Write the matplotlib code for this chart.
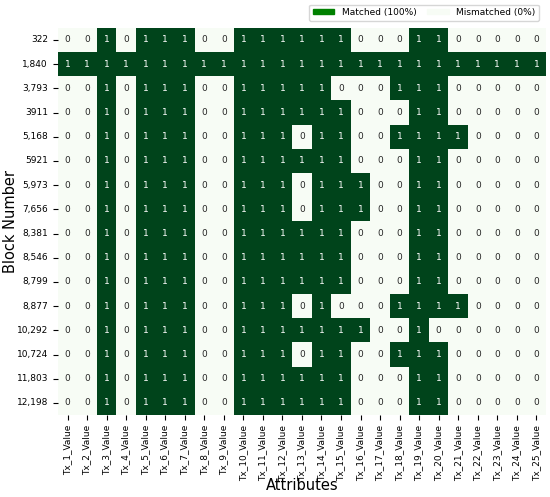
import matplotlib
matplotlib.use("Agg")
import matplotlib.pyplot as plt
import matplotlib.patches as mpatches
import numpy as np
import seaborn as sns

# block numbers (rows) and attributes (columns)
blocks = ["322", "1,840", "3,793", "3911", "5,168", "5921", "5,973", "7,656",
          "8,381", "8,546", "8,799", "8,877", "10,292", "10,724", "11,803", "12,198"]
attributes = ["Tx_%d_Value" % i for i in range(1, 26)]

# 1 = matched, 0 = mismatched
base = [0, 0, 1, 0, 1, 1, 1, 0, 0, 1, 1, 1, 1, 1, 1, 0, 0, 0, 1, 1, 0, 0, 0, 0, 0]
row_1840 = [1] * 25
row_3793 = [0, 0, 1, 0, 1, 1, 1, 0, 0, 1, 1, 1, 1, 1, 0, 0, 0, 1, 1, 1, 0, 0, 0, 0, 0]
row_5168 = [0, 0, 1, 0, 1, 1, 1, 0, 0, 1, 1, 1, 0, 1, 1, 0, 0, 1, 1, 1, 1, 0, 0, 0, 0]
row_5973 = [0, 0, 1, 0, 1, 1, 1, 0, 0, 1, 1, 1, 0, 1, 1, 1, 0, 0, 1, 1, 0, 0, 0, 0, 0]
row_8877 = [0, 0, 1, 0, 1, 1, 1, 0, 0, 1, 1, 1, 0, 1, 0, 0, 0, 1, 1, 1, 1, 0, 0, 0, 0]
row_10292 = [0, 0, 1, 0, 1, 1, 1, 0, 0, 1, 1, 1, 1, 1, 1, 1, 0, 0, 1, 0, 0, 0, 0, 0, 0]
row_10724 = [0, 0, 1, 0, 1, 1, 1, 0, 0, 1, 1, 1, 0, 1, 1, 0, 0, 1, 1, 1, 0, 0, 0, 0, 0]

matrix = np.array([base, row_1840, row_3793, base, row_5168, base, row_5973, row_5973,
                   base, base, base, row_8877, row_10292, row_10724, base, base])

fig = plt.figure(figsize=(5.5, 4.97), dpi=100)
ax = fig.add_axes([0.105, 0.165, 0.888, 0.779])
sns.heatmap(matrix, ax=ax, cmap="Greens", cbar=False, annot=True, fmt="d",
            annot_kws={"size": 6.5}, xticklabels=attributes, yticklabels=blocks)
ax.tick_params(axis="both", labelsize=6.5)
plt.setp(ax.get_yticklabels(), rotation=0)
plt.setp(ax.get_xticklabels(), rotation=90)
ax.set_xlabel("Attributes", fontsize=10.5, va="top")
ax.set_ylabel("Block Number", fontsize=10.5)
ax.xaxis.set_label_coords(0.5, -0.163)
ax.yaxis.set_label_coords(-0.082, 0.5)

# legend on top
handles = [mpatches.Patch(color="green", label="Matched (100%)"),
           mpatches.Patch(color="#f7fcf5", label="Mismatched (0%)")]
fig.legend(handles=handles, loc="upper right", bbox_to_anchor=(0.988, 1.0), ncol=2,
           fontsize=6.5, frameon=True, handlelength=2.4, handleheight=0.5,
           columnspacing=1.2)

fig.savefig("out.png", dpi=100)
